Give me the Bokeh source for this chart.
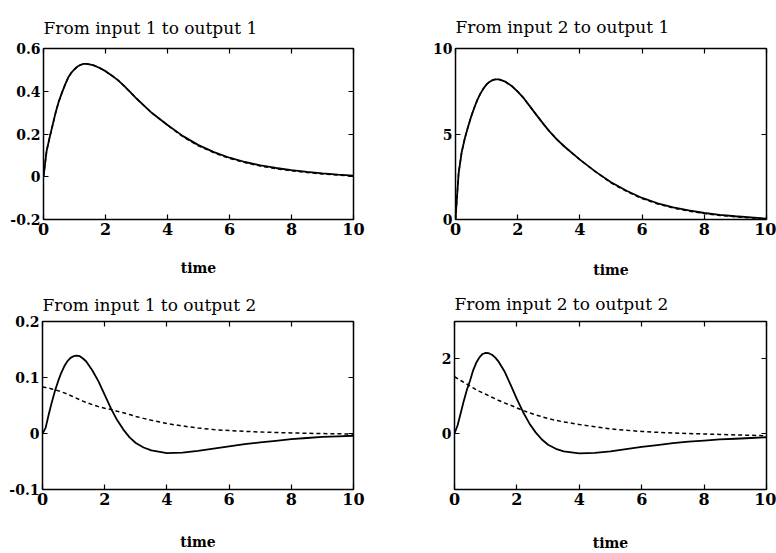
from bokeh.plotting import figure
from bokeh.models import Range1d, LinearAxis, FixedTicker
from bokeh.layouts import column, row
from bokeh.embed import file_html
from bokeh.resources import INLINE

# ---------------- data ----------------
t = [0, 0.1, 0.2, 0.3, 0.4, 0.5, 0.6, 0.7, 0.8, 0.9, 1.0, 1.1, 1.2, 1.3, 1.4, 1.6,
     1.8, 2.0, 2.2, 2.4, 2.6, 2.8, 3.0, 3.25, 3.5, 4.0, 4.5, 5.0, 5.5, 6.0, 6.5, 7.0,
     7.5, 8.0, 8.5, 9.0, 9.5, 10.0]

y11_solid = [0, 0.12, 0.185, 0.245, 0.305, 0.355, 0.395, 0.432, 0.465, 0.487, 0.503,
             0.516, 0.524, 0.528, 0.528, 0.522, 0.51, 0.494, 0.474, 0.452, 0.425, 0.396,
             0.366, 0.332, 0.298, 0.242, 0.19, 0.148, 0.115, 0.089, 0.069, 0.053, 0.041,
             0.031, 0.023, 0.016, 0.01, 0.005]
y11_dashed = [0, 0.12, 0.185, 0.245, 0.305, 0.355, 0.395, 0.432, 0.465, 0.487, 0.503,
              0.516, 0.524, 0.528, 0.528, 0.522, 0.51, 0.494, 0.474, 0.452, 0.425, 0.396,
              0.366, 0.332, 0.298, 0.241, 0.187, 0.145, 0.112, 0.086, 0.066, 0.05,
              0.038, 0.028, 0.02, 0.013, 0.008, 0.003]

y12_solid = [0, 2.7, 3.95, 4.75, 5.4, 6.0, 6.52, 6.98, 7.36, 7.66, 7.9, 8.06, 8.16, 8.2,
             8.19, 8.06, 7.82, 7.48, 7.08, 6.6, 6.12, 5.65, 5.2, 4.7, 4.27, 3.5, 2.8,
             2.18, 1.68, 1.26, 0.95, 0.71, 0.53, 0.38, 0.27, 0.19, 0.12, 0.05]
y12_dashed = [0, 2.7, 3.95, 4.75, 5.4, 6.0, 6.52, 6.98, 7.36, 7.66, 7.9, 8.06, 8.16, 8.2,
              8.19, 8.06, 7.82, 7.48, 7.08, 6.6, 6.12, 5.65, 5.2, 4.7, 4.27, 3.5, 2.8,
              2.15, 1.64, 1.22, 0.91, 0.67, 0.49, 0.35, 0.24, 0.16, 0.09, 0.03]

y21_solid = [0, 0.01, 0.034, 0.056, 0.076, 0.093, 0.108, 0.12, 0.129, 0.135, 0.138,
             0.139, 0.138, 0.134, 0.129, 0.113, 0.093, 0.069, 0.045, 0.024, 0.007,
             -0.007, -0.017, -0.025, -0.03, -0.035, -0.034, -0.031, -0.027, -0.023,
             -0.019, -0.016, -0.013, -0.01, -0.008, -0.006, -0.005, -0.004]
y21_dashed = [0.083, 0.082, 0.081, 0.0795, 0.078, 0.0765, 0.0745, 0.0725, 0.0703,
              0.0678, 0.0652, 0.0627, 0.0602, 0.0578, 0.0555, 0.0515, 0.048, 0.0452,
              0.0428, 0.0398, 0.037, 0.0338, 0.0305, 0.027, 0.0237, 0.0177, 0.0135,
              0.0098, 0.007, 0.0052, 0.0038, 0.0027, 0.0018, 0.001, 0.0004, -0.0001,
              -0.0005, -0.001]

y22_solid = [0, 0.22, 0.55, 0.88, 1.18, 1.42, 1.7, 1.9, 2.04, 2.13, 2.16, 2.15, 2.11,
             2.04, 1.94, 1.67, 1.3, 0.92, 0.57, 0.27, 0.03, -0.16, -0.3, -0.41, -0.48,
             -0.53, -0.52, -0.48, -0.42, -0.36, -0.31, -0.26, -0.22, -0.19, -0.16,
             -0.14, -0.12, -0.1]
y22_dashed = [1.52, 1.47, 1.42, 1.37, 1.32, 1.27, 1.22, 1.17, 1.13, 1.09, 1.05, 1.01,
              0.97, 0.93, 0.89, 0.82, 0.755, 0.685, 0.615, 0.555, 0.5, 0.45, 0.4, 0.352,
              0.31, 0.24, 0.18, 0.125, 0.085, 0.055, 0.032, 0.014, 0.0, -0.012, -0.025,
              -0.037, -0.048, -0.06]

x_ticks = [0, 2, 4, 6, 8, 10]
x_tick_labels = ["0", "2", "4", "6", "8", "10"]

titles = ["From input 1 to output 1", "From input 2 to output 1",
          "From input 1 to output 2", "From input 2 to output 2"]
x_label = "time"

y11_ticks = [-0.2, 0, 0.2, 0.4, 0.6]
y11_tick_labels = ["-0.2", "0", "0.2", "0.4", "0.6"]
y12_ticks = [0, 5, 10]
y12_tick_labels = ["0", "5", "10"]
y21_ticks = [-0.1, 0, 0.1, 0.2]
y21_tick_labels = ["-0.1", "0", "0.1", "0.2"]
y22_ticks = [0, 2]
y22_tick_labels = ["0", "2"]

FONT = "DejaVu Serif"


def make(title, yr, yticks, ylabels, solid, dashed, w, h, ml, mr, mt, mb,
         tstand, lstand):
    p = figure(width=w, height=h, x_range=Range1d(0, 10), y_range=Range1d(*yr),
               output_backend="svg", toolbar_location=None,
               min_border_left=ml, min_border_right=mr,
               min_border_top=mt, min_border_bottom=mb,
               background_fill_color="white", border_fill_color="white")
    p.title.text = title
    p.title.text_font = FONT
    p.title.text_font_style = "normal"
    p.title.text_font_size = "17px"
    p.title.text_color = "black"
    p.title.align = "left"
    p.title.standoff = tstand
    p.outline_line_color = "black"
    p.outline_line_width = 1.5
    p.grid.visible = False

    p.line(t, solid, line_color="black", line_width=1.8)
    p.line(t, dashed, line_color="black", line_width=1.5, line_dash="4 3")

    p.add_layout(LinearAxis(), "right")
    p.add_layout(LinearAxis(), "above")

    for ax in p.xaxis:
        ax.ticker = FixedTicker(ticks=x_ticks)
        ax.major_label_overrides = dict(zip(x_ticks, x_tick_labels))
    for ax in p.yaxis:
        ax.ticker = FixedTicker(ticks=yticks)
        ax.major_label_overrides = dict(zip(yticks, ylabels))

    for ax in p.axis:
        ax.axis_line_color = None
        ax.major_tick_in = 5
        ax.major_tick_out = 0
        ax.major_tick_line_width = 1.2
        ax.major_tick_line_color = "black"
        ax.minor_tick_line_color = None
        ax.major_label_text_font = FONT
        ax.major_label_text_font_style = "bold"
        ax.major_label_text_font_size = "14px"
        ax.major_label_text_color = "black"
        ax.major_label_standoff = 3

    bx = p.below[0]
    bx.major_label_standoff = 3
    bx.major_label_text_font_size = "16px"

    # tick marks only on the top and right edges
    xr = p.above[0]
    xr.major_label_overrides = {v: "" for v in x_ticks}
    xr.major_label_standoff = 0
    yr_ax = p.right[0]
    yr_ax.major_label_overrides = {v: "" for v in yticks}
    yr_ax.major_label_standoff = 0

    bx.axis_label = x_label
    bx.axis_label_text_font = FONT
    bx.axis_label_text_font_style = "bold"
    bx.axis_label_text_font_size = "14px"
    bx.axis_label_text_color = "black"
    bx.axis_label_standoff = lstand
    return p


p1 = make(titles[0], (-0.2, 0.6), y11_ticks, y11_tick_labels, y11_solid, y11_dashed,
          390, 280, 43, 37, 45, 61, 21, 22)
p2 = make(titles[1], (0, 10), y12_ticks, y12_tick_labels, y12_solid, y12_dashed,
          386, 280, 65, 10, 48, 60, 23, 24)
p3 = make(titles[2], (-0.1, 0.2), y21_ticks, y21_tick_labels, y21_solid, y21_dashed,
          390, 273, 42, 37, 38, 62, 14, 26)
p4 = make(titles[3], (-1.5, 3), y22_ticks, y22_tick_labels, y22_solid, y22_dashed,
          386, 273, 64, 10, 41, 60, 16, 27)

layout = column(row(p1, p2), row(p3, p4))

open("out.html", "w").write(file_html(layout, INLINE))
